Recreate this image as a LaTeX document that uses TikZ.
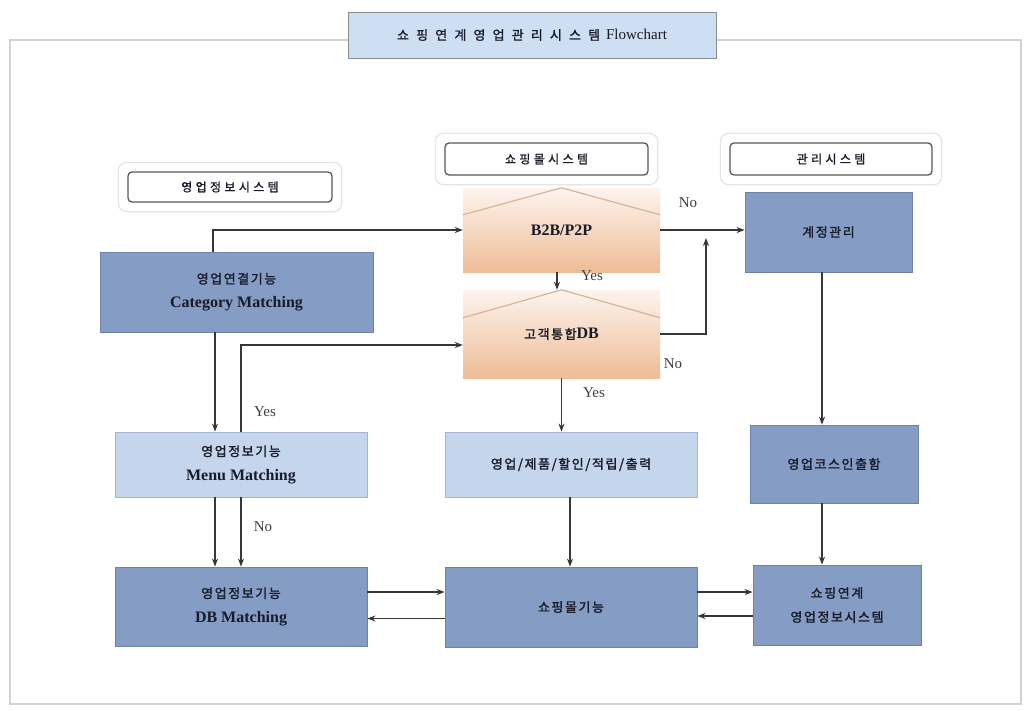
\documentclass[tikz,border=0pt]{standalone}
\usepackage{fontspec}
\setmainfont{Liberation Serif}
\newfontfamily\kr[LetterSpace=12,FakeBold=1.6]{Noto Sans CJK KR}
\newfontfamily\krh[LetterSpace=28,FakeBold=1.2]{Noto Sans CJK KR}
\newfontfamily\krt[LetterSpace=55,FakeBold=1.2]{Noto Sans CJK KR}
\usetikzlibrary{arrows.meta,calc}
\definecolor{steel}{RGB}{133,156,197}
\definecolor{steelb}{RGB}{108,130,172}
\definecolor{pale}{RGB}{197,213,236}
\definecolor{paleb}{RGB}{160,182,214}
\definecolor{titlef}{RGB}{206,222,243}
\definecolor{peachT}{RGB}{253,244,238}
\definecolor{peachB}{RGB}{237,188,150}
\definecolor{roofc}{RGB}{218,180,152}
\definecolor{linec}{RGB}{55,55,55}
\definecolor{framec}{RGB}{210,210,210}
\definecolor{halo}{RGB}{228,228,228}
\definecolor{txt}{RGB}{25,27,40}
\tikzset{
  box/.style={draw=steelb, line width=0.8pt, fill=steel, align=center, inner sep=0pt, text=txt, font=\fontsize{13}{24}\selectfont},
  lbox/.style={box, draw=paleb, fill=pale},
  house/.style={align=center, inner sep=0pt, text=txt, top color=peachT, bottom color=peachB, draw=none, font=\fontsize{13}{24}\selectfont},
  hdr/.style={draw=black!65, rounded corners=4pt, line width=1.3pt, fill=white, minimum width=203pt, minimum height=31pt, text=txt, font=\krh\fontsize{12}{14}\selectfont},
  halobox/.style={draw=halo, line width=1.2pt, rounded corners=8pt},
  arr/.style={draw=linec, line width=1.2pt, -{Stealth[length=8pt,width=6pt]}},
  lab/.style={text=black!75, font=\fontsize{15}{16}\selectfont, inner sep=0pt}
}
\newcommand{\lt}[1]{{\fontsize{16}{18}\selectfont\bfseries #1}}
\begin{document}
\begin{tikzpicture}[x=1pt,y=-1pt]
\useasboundingbox[fill=white] (0,0) rectangle (1030,710);
% outer frame
\draw[framec, line width=2.5pt] (10,40) rectangle (1021,704);
% title
\node[draw=black!45, line width=1pt, fill=titlef, minimum width=368pt, minimum height=46pt, text=txt, inner sep=0pt] (title) at (532,35)
  {{\krt\fontsize{13}{15}\selectfont 쇼핑연계영업관리시스템}\hspace{6pt}{\fontsize{15}{15}\selectfont Flowchart}};
% headers
\node[hdr, minimum width=204pt, minimum height=30pt] (hL) at (230,187) {영업정보시스템};
\node[hdr, minimum height=32pt] (hM) at (546.5,159) {쇼핑몰시스템};
\node[hdr, minimum width=202pt, minimum height=32pt] (hR) at (831,159) {관리시스템};
\foreach \h in {hL,hM,hR}
  \draw[halobox] ([xshift=-9pt,yshift=9pt]\h.north west) rectangle ([xshift=9pt,yshift=-9pt]\h.south east);
% boxes
\node[box, minimum width=273pt, minimum height=80pt] (cat) at (236.5,292) {{\kr 영업연결기능}\\\lt{Category Matching}};
\node[house, minimum width=197pt, minimum height=84pt] (b2b) at (561.5,230) {\lt{B2B/P2P}};
\draw[roofc, line width=1.2pt] ([yshift=-27pt]b2b.north west) -- (b2b.north) -- ([yshift=-27pt]b2b.north east);
\node[house, minimum width=197pt, minimum height=88pt] (cdb) at (561.5,334) {{\kr 고객통합}\lt{DB}};
\draw[roofc, line width=1.2pt] ([yshift=-28pt]cdb.north west) -- (cdb.north) -- ([yshift=-28pt]cdb.north east);
\node[box, minimum width=167pt, minimum height=80pt] (acct) at (828.5,232) {\kr 계정관리};
\node[lbox, minimum width=252pt, minimum height=65pt] (menu) at (241,464.5) {{\kr 영업정보기능}\\\lt{Menu Matching}};
\node[lbox, minimum width=252pt, minimum height=65pt] (prod) at (571,464.5) {\kr 영업/제품/할인/적립/출력};
\node[box, minimum width=168pt, minimum height=78pt] (course) at (834,464) {\kr 영업코스인출함};
\node[box, minimum width=252pt, minimum height=79pt] (dbm) at (241,606.5) {{\kr 영업정보기능}\\\lt{DB Matching}};
\node[box, minimum width=252pt, minimum height=80pt] (mall) at (571,607) {\kr 쇼핑몰기능};
\node[box, minimum width=168pt, minimum height=80pt] (sys) at (837,605) {{\kr 쇼핑연계}\\{\kr 영업정보시스템}};
% connectors
\draw[arr] ([xshift=-23.5pt]cat.north) |- (b2b.west);
\draw[arr] (b2b.east) -- (b2b.east -| acct.west);
\coordinate (j) at (706,238);
\draw[arr] (cdb.east) -| (j);
\draw[arr] ([xshift=-4.5pt]b2b.south) -- ([xshift=-4.5pt]b2b.south |- cdb.north);
\draw[arr] (cdb.south) -- (cdb.south |- prod.north);
\draw[arr] ([xshift=-21.5pt]cat.south) -- ([xshift=-26pt]menu.north);
\draw[arr] (menu.north) |- ([yshift=-11pt]cdb.west);
\draw[arr] (menu.south) -- (dbm.north);
\draw[arr] ([xshift=-26pt]menu.south) -- ([xshift=-26pt]dbm.north);
\draw[arr] ([xshift=-1pt]prod.south) -- ([xshift=-1pt]prod.south |- mall.north);
\draw[arr] ([xshift=-6.5pt]acct.south) -- ([xshift=-6.5pt]acct.south |- course.north);
\draw[arr] ([xshift=-12pt]course.south) -- ([xshift=-12pt]course.south |- sys.north);
\draw[arr] ([yshift=14.5pt]dbm.east) -- ([yshift=14.5pt]dbm.east -| mall.west);
\draw[arr] ([yshift=-11.5pt]mall.west) -- ([yshift=-11.5pt]mall.west -| dbm.east);
\draw[arr] ([yshift=15pt]mall.east) -- ([yshift=15pt]mall.east -| sys.west);
\draw[arr] ([yshift=-11pt]sys.west) -- ([yshift=-11pt]sys.west -| mall.east);
% labels
\node[lab] (l1) at (688,203) {No};
\node[lab] (l2) at (592,276) {Yes};
\node[lab] (l3) at (673,364) {No};
\node[lab] (l4) at (594,393) {Yes};
\node[lab] (l5) at (265,412) {Yes};
\node[lab] (l6) at (263,527) {No};
\end{tikzpicture}
\end{document}
